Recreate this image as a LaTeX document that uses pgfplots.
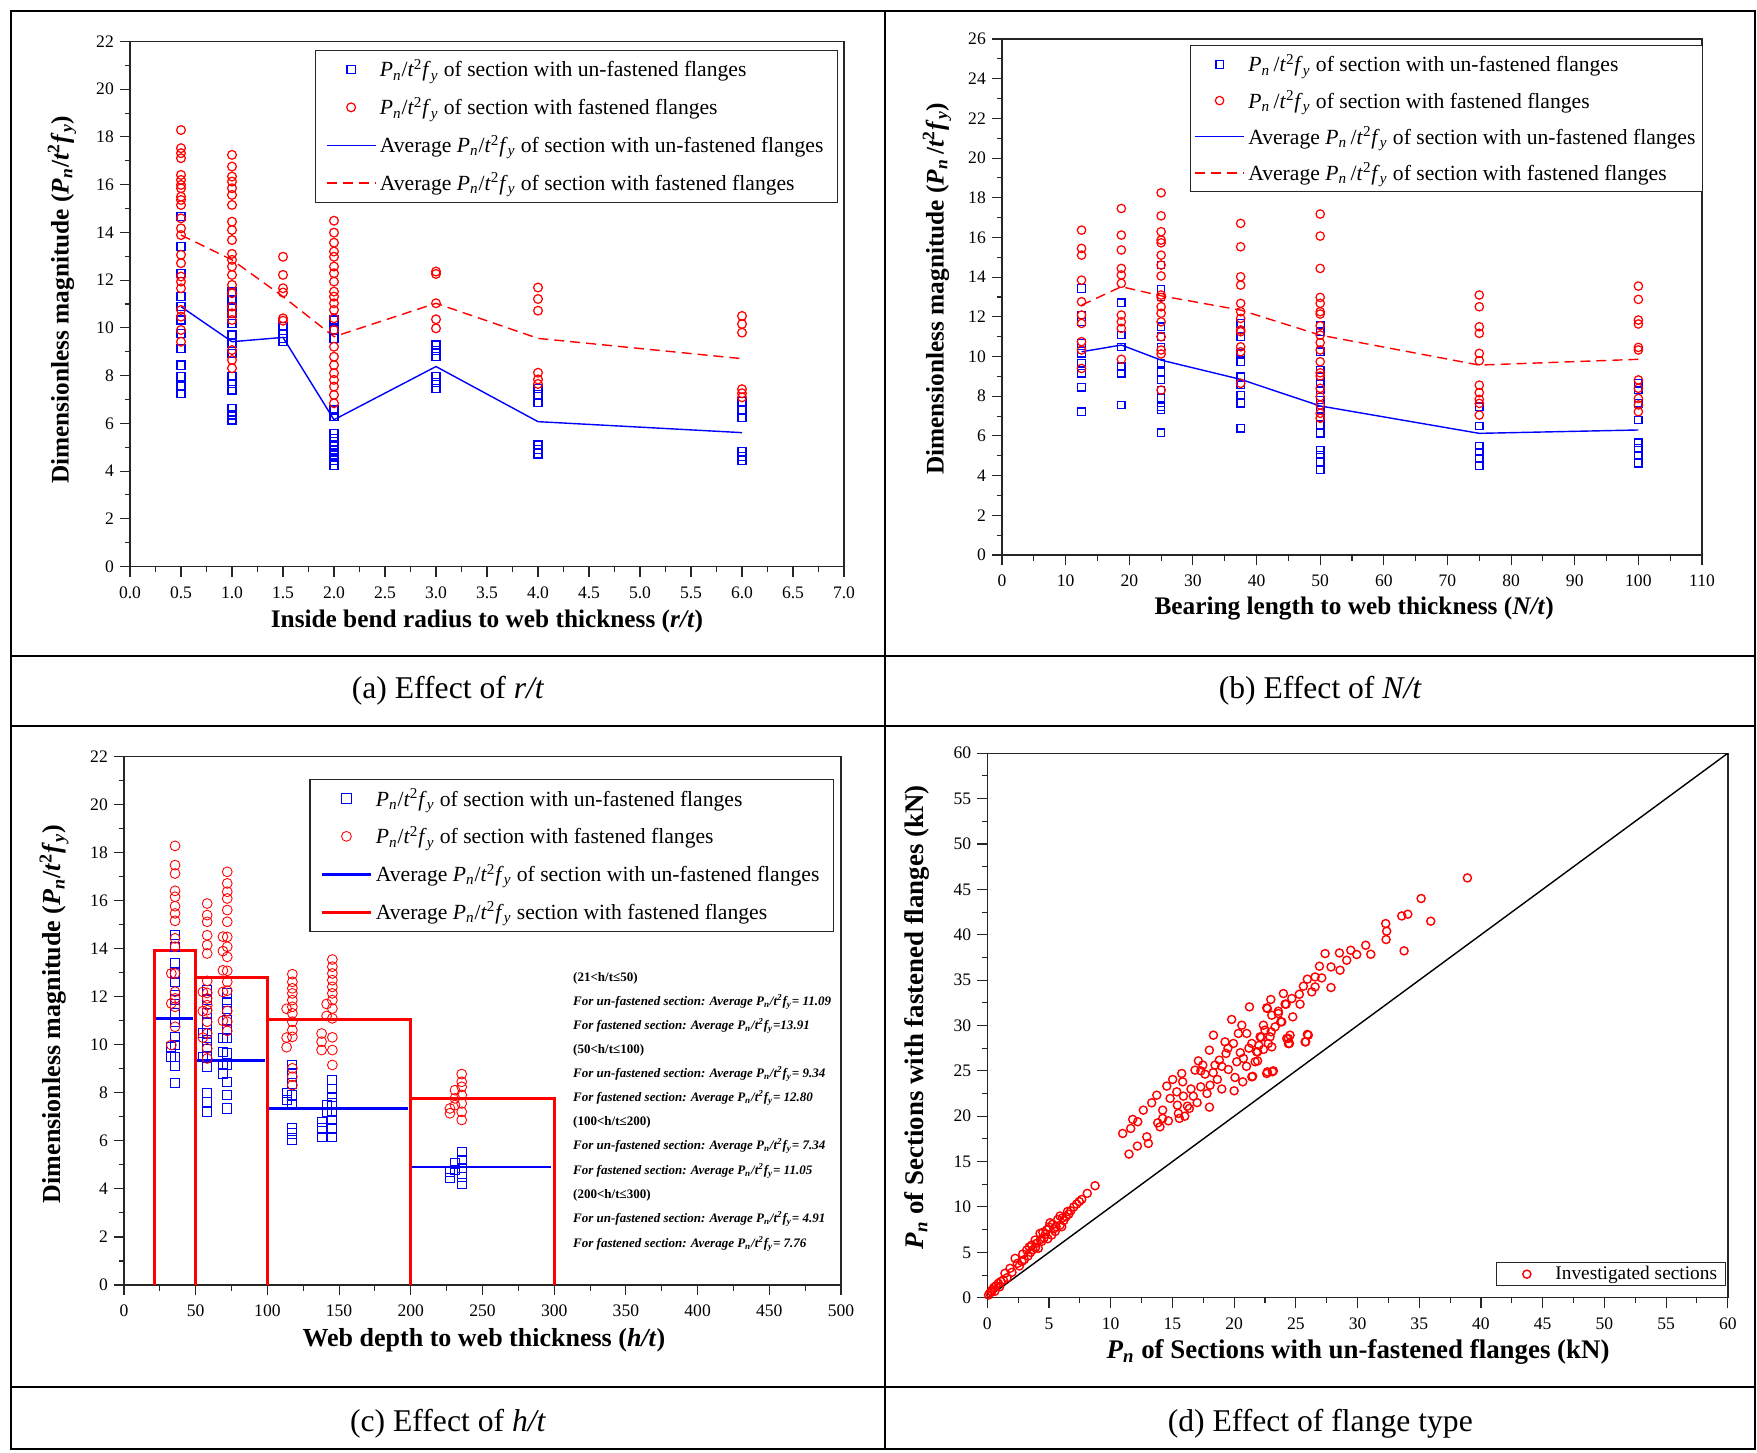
\documentclass[border=0pt]{standalone}
\usepackage{fontspec}
\setmainfont{Liberation Serif}
\usepackage{pgfplots}
\pgfplotsset{compat=1.18}
\newcommand{\PR}{\textit{P}\textsubscript{\textit{n}}/\textit{t}\textsuperscript{2}\textit{f}\textsubscript{\textit{y}}}
\newcommand{\PRs}{\textit{P}\textsubscript{\textit{n}}\,/\textit{t}\textsuperscript{2}\textit{f}\textsubscript{\textit{y}}}
\newcommand{\PRq}{\textit{P}\textsubscript{\textit{n}}/\textit{t}\textsuperscript{2}\textit{f}\textsubscript{\textit{y}}}
\newcommand{\Pn}{\textit{P}\textsubscript{\textit{n}}}
\pgfplotsset{
  panel/.style={
    scale only axis,
    axis line style={line width=0.8pt, black!85},
    every tick/.append style={black!85, line width=0.6pt},
    major tick length=0.2cm, minor tick length=0.11cm,
    tick align=outside, tick pos=left,
    /pgf/number format/assume math mode=true,
    tick label style={font=\fontsize{10}{12}\selectfont},
    xticklabel style={yshift=-0.08cm},
    xlabel style={font=\fontsize{14.4}{16}\selectfont\bfseries, anchor=center},
    ylabel style={font=\fontsize{14.4}{16}\selectfont\bfseries, anchor=center},
    legend cell align=left,
    legend style={draw=black!85, line width=0.6pt, font=\fontsize{12.3}{14}\selectfont, row sep=6pt, inner xsep=6pt, inner ysep=3pt},
  },
  sq/.style={only marks, mark=square, mark size=2.3pt, blue, mark options={line width=0.7pt, solid}},
  ci/.style={only marks, mark=o, mark size=2.5pt, red, mark options={line width=0.7pt, solid}},
  mkleg/.style={legend image code/.code={\path (0cm,0cm) (0.98cm,0cm); \draw[##1] plot coordinates {(0.49cm,0cm)};}},
  lnleg/.style={legend image code/.code={\draw[##1] (0cm,0cm) -- (0.98cm,0cm);}},
}
\begin{document}
\begin{tikzpicture}
\useasboundingbox (0,0) rectangle (35.14cm,-29.04cm);
\fill[white] (0,0) rectangle (35.14cm,-29.04cm);
\begin{scope}[x=0.02cm,y=-0.02cm, line width=1.1pt]
\draw (11,11) rectangle (1755,1449);
\draw (885,11) -- (885,1449);
\draw (11,655.5) -- (1755,655.5);
\draw (11,726) -- (1755,726);
\draw (11,1387) -- (1755,1387);
\node[font=\fontsize{18}{20}\selectfont] at (448,691) {(a) Effect of \textit{r/t}};
\node[font=\fontsize{18}{20}\selectfont] at (1320,691) {(b) Effect of \textit{N/t}};
\node[font=\fontsize{18}{20}\selectfont] at (448,1423) {(c) Effect of \textit{h/t}};
\node[font=\fontsize{18}{20}\selectfont] at (1320,1423) {(d) Effect of flange type};
\end{scope}

% ---------------- (a)
\begin{axis}[panel, at={(2.6cm,-11.33cm)}, anchor=south west,
  width=14.28cm, height=10.5cm,
  xmin=0, xmax=7, ymin=0, ymax=22,
  xtick={0,0.5,...,7}, ytick={0,2,...,22},
  minor x tick num=1, minor y tick num=1,
  xticklabel style={/pgf/number format/.cd, fixed, fixed zerofill, precision=1},
  xlabel={Inside bend radius to web thickness (\textit{r/t})},
  ylabel={Dimensionless magnitude (\PR)},
  xlabel style={at={(axis description cs:0.5,-0.104)}},
  ylabel style={at={(axis description cs:-0.0952,0.508)}},
  legend style={at={(rel axis cs:1,1)}, anchor=north east, xshift=-0.12cm, yshift=-0.17cm},
]
\addplot[sq, mkleg] coordinates {
(0.5,14.66)(0.5,13.40)(0.5,12.29)(0.5,11.31)(0.5,10.89)(0.5,10.33)(0.5,9.77)(0.5,9.14)(0.5,8.44)(0.5,7.95)(0.5,7.56)(0.5,7.26)
(1,11.5)(1,11.17)(1,10.9)(1,10.61)(1,10.19)(1,9.70)(1,9.35)(1,8.94)(1,7.95)(1,7.68)(1,7.40)(1,6.63)(1,6.35)(1,6.14)
(1.5,10.05)(1.5,9.77)(1.5,9.56)(1.5,9.42)
(2,10.33)(2,9.91)(2,9.56)(2,6.56)(2,6.28)(2,5.58)(2,5.37)(2,5.09)(2,4.88)(2,4.67)(2,4.46)(2,4.25)
(3,9.28)(3,9.05)(3,8.79)(3,7.95)(3,7.70)(3,7.47)
(4,7.47)(4,7.19)(4,6.87)(4,5.09)(4,4.91)(4,4.72)
(6,6.91)(6,6.56)(6,6.25)(6,4.82)(6,4.60)(6,4.43)};
\addlegendentry{\PR{} of section with un-fastened flanges}
\addplot[ci, mkleg] coordinates {
(0.5,18.29)(0.5,17.53)(0.5,17.32)(0.5,17.11)(0.5,16.41)(0.5,16.20)(0.5,15.99)(0.5,15.85)(0.5,15.50)(0.5,15.36)(0.5,15.15)(0.5,14.59)(0.5,14.17)(0.5,13.89)(0.5,13.06)(0.5,12.71)(0.5,12.15)(0.5,11.94)(0.5,11.66)(0.5,10.75)(0.5,10.47)(0.5,9.91)(0.5,9.42)
(1,17.25)(1,16.76)(1,16.34)(1,16.13)(1,15.85)(1,15.57)(1,15.15)(1,14.45)(1,14.10)(1,13.68)(1,13.10)(1,12.85)(1,12.57)(1,12.22)(1,11.80)(1,11.45)(1,10.89)(1,10.61)(1,10.33)(1,9.07)(1,8.65)(1,8.31)
(1.5,12.98)(1.5,12.22)(1.5,11.66)(1.5,11.48)(1.5,10.40)(1.5,10.30)
(2,14.49)(2,13.99)(2,13.57)(2,13.20)(2,12.98)(2,12.57)(2,12.29)(2,11.94)(2,11.52)(2,11.31)(2,11.03)(2,10.75)(2,10.40)(2,9.91)(2,9.21)(2,8.79)(2,8.44)(2,8.10)(2,7.82)(2,7.54)(2,7.19)(2,6.84)
(3,12.36)(3,12.26)(3,11.03)(3,10.36)(3,9.98)
(4,11.69)(4,11.21)(4,10.72)(4,8.12)(4,7.84)(4,7.65)
(6,10.50)(6,10.16)(6,9.80)(6,7.43)(6,7.26)(6,7.09)};
\addlegendentry{\PR{} of section with fastened flanges}
\addplot[blue, line width=0.8pt, lnleg] coordinates {(0.5,10.89)(1,9.42)(1.5,9.60)(2,6.15)(3,8.38)(4,6.07)(6,5.61)};
\addlegendentry{Average \PR{} of section with un-fastened flanges}
\addplot[red, line width=0.8pt, dash pattern=on 0.2cm off 0.12cm, lnleg] coordinates {(0.5,13.89)(1,12.85)(1.5,11.31)(2,9.63)(3,11.03)(4,9.56)(6,8.71)};
\addlegendentry{Average \PR{} of section with fastened flanges}
\end{axis}

% ---------------- (b)
\begin{axis}[panel, at={(20.04cm,-11.10cm)}, anchor=south west,
  width=14.0cm, height=10.32cm,
  xmin=0, xmax=110, ymin=0, ymax=26,
  xtick={0,10,...,110}, ytick={0,2,...,26},
  minor x tick num=1, minor y tick num=1,
  xlabel={Bearing length to web thickness (\textit{N/t})},
  ylabel={Dimensionless magnitude (\PRs)},
  xlabel style={at={(axis description cs:0.503,-0.103)}},
  ylabel style={at={(axis description cs:-0.093,0.516)}},
  legend style={at={(rel axis cs:1,1)}, anchor=north east, xshift=0.02cm, yshift=-0.12cm, inner xsep=2pt, row sep=5pt},
]
\addplot[sq, mark size=2.1pt, mkleg] coordinates {
(12.5,13.43)(12.5,12.09)(12.5,11.75)(12.5,10.66)(12.5,10.16)(12.5,9.66)(12.5,9.15)(12.5,8.45)(12.5,7.22)
(18.75,12.71)(18.75,11.08)(18.75,10.49)(18.75,9.49)(18.75,9.15)(18.75,7.56)
(25,14.61)(25,13.38)(25,13.01)(25,11.50)(25,11.00)(25,10.49)(25,9.66)(25,9.24)(25,8.82)(25,8.31)(25,7.89)(25,7.47)(25,7.30)(25,6.16)
(37.5,11.67)(37.5,11.00)(37.5,10.16)(37.5,9.74)(37.5,8.98)(37.5,8.56)(37.5,8.06)(37.5,7.64)(37.5,6.38)
(50,11.59)(50,11.25)(50,10.24)(50,9.32)(50,8.98)(50,8.65)(50,8.31)(50,7.81)(50,7.30)(50,6.97)(50,6.55)(50,6.13)(50,5.29)(50,5.04)(50,4.70)(50,4.28)
(75,7.47)(75,6.50)(75,5.49)(75,5.20)(75,4.87)(75,4.48)
(100,8.65)(100,8.31)(100,7.64)(100,6.80)(100,5.66)(100,5.37)(100,5.04)(100,4.62)};
\addlegendentry{\PRs{} of section with un-fastened flanges}
\addplot[ci, mark size=2.4pt, mkleg] coordinates {
(12.5,16.37)(12.5,15.45)(12.5,15.11)(12.5,13.85)(12.5,12.76)(12.5,12.09)(12.5,11.67)(12.5,10.75)(12.5,10.33)(12.5,9.40)
(18.75,17.46)(18.75,16.12)(18.75,15.37)(18.75,14.44)(18.75,14.11)(18.75,13.69)(18.75,12.09)(18.75,11.75)(18.75,11.42)(18.75,9.86)
(25,18.25)(25,17.09)(25,16.29)(25,15.87)(25,15.73)(25,15.11)(25,14.61)(25,14.06)(25,13.10)(25,12.98)(25,12.51)(25,12.18)(25,11.75)(25,11.00)(25,10.33)(25,10.13)(25,8.31)
(37.5,16.71)(37.5,15.53)(37.5,14.02)(37.5,13.60)(37.5,12.68)(37.5,12.26)(37.5,11.92)(37.5,11.34)(37.5,11.25)(37.5,10.49)(37.5,10.24)(37.5,8.65)
(50,17.18)(50,16.07)(50,14.44)(50,12.98)(50,12.68)(50,12.26)(50,12.14)(50,11.55)(50,11.08)(50,10.70)(50,10.33)(50,9.74)(50,9.18)(50,9.02)(50,8.40)(50,7.98)(50,7.56)(50,7.14)(50,6.89)
(75,13.10)(75,12.51)(75,11.50)(75,11.17)(75,10.16)(75,9.79)(75,8.56)(75,8.18)(75,7.84)(75,7.64)(75,7.05)
(100,13.55)(100,12.88)(100,11.84)(100,11.64)(100,10.46)(100,10.33)(100,8.82)(100,8.40)(100,7.89)(100,7.56)(100,7.22)};
\addlegendentry{\PRs{} of section with fastened flanges}
\addplot[blue, line width=0.8pt, lnleg] coordinates {(12.5,10.24)(18.75,10.58)(25,9.82)(37.5,8.85)(50,7.51)(75,6.13)(100,6.30)};
\addlegendentry{Average \PRs{} of section with un-fastened flanges}
\addplot[red, line width=0.8pt, dash pattern=on 0.2cm off 0.12cm, lnleg] coordinates {(12.5,12.59)(18.75,13.52)(25,13.06)(37.5,12.34)(50,11.08)(75,9.57)(100,9.86)};
\addlegendentry{Average \PRs{} of section with fastened flanges}
\end{axis}

% ---------------- (c)
\begin{axis}[panel, at={(2.48cm,-25.70cm)}, anchor=south west,
  width=14.34cm, height=10.57cm,
  xmin=0, xmax=500, ymin=0, ymax=22,
  xtick={0,50,...,500}, ytick={0,2,...,22},
  minor x tick num=1, minor y tick num=1,
  xlabel={Web depth to web thickness (\textit{h/t})},
  ylabel={Dimensionless magnitude (\PRq)},
  xlabel style={at={(axis description cs:0.502,-0.104)}, font=\fontsize{14.8}{16}\selectfont\bfseries},
  ylabel style={at={(axis description cs:-0.0976,0.513)}, font=\fontsize{14.8}{16}\selectfont\bfseries},
  legend style={at={(rel axis cs:1,1)}, anchor=north east, xshift=-0.14cm, yshift=-0.45cm},
]
\addplot[sq, mark size=2.6pt, mark options={line width=0.5pt}, mkleg] coordinates {
(35.6,14.56)(35.6,14.08)(35.6,13.39)(35.6,12.97)(35.6,12.62)(35.6,12.07)(35.6,11.86)(35.6,11.31)(35.6,10.96)(35.6,10.33)(35.6,9.99)(35.6,9.50)(35.6,9.13)(35.6,8.42)
(33,9.9)(33,9.5)
(58,12.28)(58,11.86)(58,11.31)(58,10.89)(58,10.47)(58,10.20)(58,9.92)(58,9.50)(58,9.08)(58,7.98)(58,7.63)(58,7.21)
(55,10.5)(55,9.5)
(72,12.14)(72,11.79)(72,11.51)(72,11.03)(72,10.61)(72,10.27)(72,9.64)(72,9.16)(72,8.46)(72,7.91)(72,7.35)
(69,10.3)(69,9.7)(69,9.2)(69,8.8)
(117.4,9.16)(117.4,8.81)(117.4,8.39)(117.4,7.91)(117.4,7.49)(117.4,6.52)(117.4,6.31)(117.4,6.03)
(113.4,8.0)(113.4,7.7)
(145.3,8.53)(145.3,8.18)(145.3,7.84)(145.3,7.56)(145.3,7.21)(145.3,6.87)(145.3,6.52)(145.3,6.17)
(141.3,7.5)(141.3,7.2)
(137.8,6.80)(137.8,6.52)(137.8,6.17)
(235.5,5.55)(235.5,5.20)(235.5,4.86)(235.5,4.51)(235.5,4.23)
(230.8,5.06)(230.8,4.79)
(227.3,4.72)(227.3,4.44)};
\addlegendentry{\PRq{} of section with un-fastened flanges}
\addplot[ci, mark size=2.8pt, mark options={line width=0.5pt}, mkleg] coordinates {
(35.6,18.28)(35.6,17.48)(35.6,17.13)(35.6,16.41)(35.6,16.16)(35.6,15.77)(35.6,15.47)(35.6,15.16)(35.6,14.43)(35.6,14.08)(35.6,12.97)(35.6,12.21)(35.6,11.93)(35.6,11.58)(35.6,10.75)
(33,12.97)(33,11.72)(33,9.99)
(58,15.88)(58,15.40)(58,15.12)(58,14.56)(58,14.15)(58,13.80)(58,12.66)(58,12.16)(58,11.93)(58,11.65)(58,11.44)(58,10.96)(58,10.47)(58,9.85)(58,9.43)
(55,12.2)(55,11.4)(55,10.3)
(72,17.20)(72,16.72)(72,16.37)(72,16.09)(72,15.61)(72,15.12)(72,14.49)(72,14.08)(72,13.66)(72,13.08)(72,12.62)(72,12.25)(72,11.41)(72,10.96)(72,10.58)
(69,14.5)(69,13.9)(69,13.1)(69,12.2)(69,11.0)
(117.4,12.94)(117.4,12.62)(117.4,12.35)(117.4,12.14)(117.4,11.86)(117.4,11.58)(117.4,11.31)(117.4,10.96)(117.4,10.61)(117.4,10.33)(117.4,9.02)(117.4,8.67)(117.4,8.32)
(113.4,11.5)(113.4,10.3)(113.4,9.9)
(145.3,13.55)(145.3,13.25)(145.3,12.97)(145.3,12.69)(145.3,12.41)(145.3,12.14)(145.3,11.86)(145.3,11.51)(145.3,11.10)(145.3,10.31)(145.3,9.78)(145.3,9.16)
(141.3,11.7)(141.3,11.2)
(137.8,10.47)(137.8,10.13)(137.8,9.78)
(235.5,8.78)(235.5,8.46)(235.5,8.25)(235.5,7.91)(235.5,7.56)(235.5,7.21)(235.5,6.87)
(230.8,8.11)(230.8,7.77)(230.8,7.49)
(227.3,7.35)(227.3,7.15)};
\addlegendentry{\PRq{} of section with fastened flanges}
\addplot[blue, line width=1.6pt, lnleg] coordinates {(22,11.09)(48,11.09)};
\addlegendentry{Average \PRq{} of section with un-fastened flanges}
\addplot[red, line width=1.6pt, lnleg] coordinates {(21,0)(21,13.91)(50,13.91)(50,0)(50,12.80)(100,12.80)(100,0)(100,11.05)(200,11.05)(200,0)(200,7.76)(300,7.76)(300,0)};
\addlegendentry{Average \PRq{} section with fastened flanges}
\addplot[blue, line width=1.6pt, forget plot] coordinates {(51,9.34)(98,9.34)};
\addplot[blue, line width=1.6pt, forget plot] coordinates {(101,7.34)(198,7.34)};
\addplot[blue, line width=1.6pt, forget plot] coordinates {(201,4.91)(298,4.91)};
\begin{scope}[every node/.style={anchor=west, inner sep=0pt, font=\fontsize{7.4}{8}\selectfont\bfseries}]
\node at (axis cs:313,12.78) {(21<h/t≤50)};
\node at (axis cs:313,11.78) {\itshape For un-fastened section: Average \Pn/\textit{t}\textsuperscript{2}\textit{f}\textsubscript{\textit{y}}= 11.09};
\node at (axis cs:313,10.78) {\itshape For fastened section: Average \Pn/\textit{t}\textsuperscript{2}\textit{f}\textsubscript{\textit{y}}=13.91};
\node at (axis cs:313,9.78) {(50<h/t≤100)};
\node at (axis cs:313,8.78) {\itshape For un-fastened section: Average \Pn/\textit{t}\textsuperscript{2}\textit{f}\textsubscript{\textit{y}}= 9.34};
\node at (axis cs:313,7.78) {\itshape For fastened section: Average \Pn/\textit{t}\textsuperscript{2}\textit{f}\textsubscript{\textit{y}}= 12.80};
\node at (axis cs:313,6.78) {(100<h/t≤200)};
\node at (axis cs:313,5.78) {\itshape For un-fastened section: Average \Pn/\textit{t}\textsuperscript{2}\textit{f}\textsubscript{\textit{y}}= 7.34};
\node at (axis cs:313,4.74) {\itshape For fastened section: Average \Pn/\textit{t}\textsuperscript{2}\textit{f}\textsubscript{\textit{y}}= 11.05};
\node at (axis cs:313,3.75) {(200<h/t≤300)};
\node at (axis cs:313,2.75) {\itshape For un-fastened section: Average \Pn/\textit{t}\textsuperscript{2}\textit{f}\textsubscript{\textit{y}}= 4.91};
\node at (axis cs:313,1.71) {\itshape For fastened section: Average \Pn/\textit{t}\textsuperscript{2}\textit{f}\textsubscript{\textit{y}}= 7.76};
\end{scope}
\end{axis}

% ---------------- (d)
\begin{axis}[panel, at={(19.746cm,-25.954cm)}, anchor=south west,
  width=14.81cm, height=10.89cm,
  xmin=0, xmax=60, ymin=0, ymax=60,
  xtick={0,5,...,60}, ytick={0,5,...,60},
  minor x tick num=1, minor y tick num=1,
  xlabel={\Pn{} of Sections with un-fastened flanges (kN)},
  ylabel={\Pn{} of Sections with fastened flanges (kN)},
  xlabel style={at={(axis description cs:0.5007,-0.0997)}, font=\fontsize{15.3}{17}\selectfont\bfseries},
  ylabel style={at={(axis description cs:-0.095,0.515)}, font=\fontsize{15.3}{17}\selectfont\bfseries},
  legend style={at={(rel axis cs:1,0)}, anchor=south east, xshift=-0.03cm, yshift=0.23cm, font=\fontsize{11}{12}\selectfont, inner ysep=0pt, inner xsep=3pt, row sep=0pt},
]
\addplot[ci, mark size=2.3pt, mark options={line width=0.8pt}, mkleg] coordinates {
(0.10,0.30)(0.2,0.5)(0.35,0.66)(0.4,0.9)(0.54,1.14)(0.6,0.7)(0.7,1.3)(0.89,1.59)(1.0,1.2)(1.1,1.8)(1.30,1.95)(1.43,2.69)(1.6,2.2)(1.84,3.24)(2.0,2.8)(2.25,4.34)(2.43,3.78)(2.6,3.5)(2.8,4.0)(2.87,4.81)(3.0,4.2)(3.19,5.25)(3.3,4.6)(3.4,5.6)(3.5,5.0)(3.60,5.80)(3.7,5.3)(3.87,6.35)(3.9,5.5)(4.0,6.0)(4.13,5.44)(4.27,7.09)(4.3,6.4)(4.4,6.2)(4.5,7.2)(4.6,6.6)(4.7,7.0)(4.81,7.46)(4.9,6.5)(5.0,7.8)(5.08,8.26)(5.22,6.91)(5.3,8.1)(5.4,7.6)(5.5,7.3)(5.57,7.82)(5.7,8.6)(5.89,9.00)(5.9,8.0)(6.03,7.82)(6.1,8.8)(6.2,8.5)(6.38,8.92)(6.5,9.5)(6.6,9.2)(6.76,9.58)(7.0,10.0)(7.24,10.32)(7.45,10.6)(7.65,10.83)(8.10,11.50)(8.73,12.34)
(10.97,18.10)(11.48,15.83)(11.62,18.65)(11.78,19.65)(12.19,19.39)(12.16,16.71)(12.64,20.67)(12.92,17.73)(13.05,17.00)(13.32,21.48)(13.73,22.32)(13.81,19.27)(13.99,18.83)(14.21,20.67)(14.21,19.76)(14.54,23.32)(14.67,19.49)(14.81,21.96)(15.02,24.05)(15.35,22.69)(15.40,21.22)(15.48,20.31)(15.56,19.76)(15.75,24.71)(15.83,23.79)(15.89,22.21)(16.0,20.0)(16.21,21.11)(16.37,20.86)(16.5,23.0)(16.69,22.21)(16.83,25.08)(17.0,21.5)(17.10,26.10)(17.29,23.24)(17.3,25.0)(17.46,25.63)(17.64,24.64)(17.8,22.5)(17.99,27.28)(18.0,21.0)(18.05,23.42)(18.3,24.8)(18.32,28.93)(18.45,25.63)(18.64,24.05)(18.80,26.18)(19.0,23.0)(19.0,25.5)(19.26,28.19)(19.34,26.92)(19.5,27.5)(19.53,25.15)(19.80,30.66)(19.94,28.02)(20.0,22.8)(20.07,24.27)(20.21,26.00)(20.34,29.12)(20.5,27.0)(20.62,30.03)(20.70,23.79)(20.75,26.37)(21.0,25.5)(21.02,29.12)(21.2,27.5)(21.24,32.05)(21.43,24.34)(21.43,28.02)(21.5,24.4)(21.70,26.00)(21.83,27.10)(21.9,27.1)(21.9,26.1)(22.0,27.8)(22.10,28.75)(22.2,28.7)(22.37,30.03)(22.37,27.36)(22.50,29.48)(22.64,24.71)(22.64,31.94)(22.69,31.87)(22.69,24.89)(22.77,28.02)(22.91,28.75)(22.97,32.86)(23.0,29.3)(23.05,27.64)(23.05,31.13)(23.1,24.9)(23.18,25.00)(23.32,29.85)(23.58,31.32)(23.58,31.57)(23.78,30.40)(23.86,30.40)(23.99,33.52)(24.13,32.35)(24.21,32.35)(24.26,28.57)(24.39,28.57)(24.4,28.0)(24.48,28.02)(24.53,28.93)(24.67,32.97)(24.75,30.95)(25.28,33.44)(25.34,32.35)(25.61,34.33)(25.75,28.19)(25.8,28.2)(25.93,35.10)(25.93,29.01)(26.01,28.93)(26.29,33.70)(26.56,34.25)(26.56,35.35)(26.91,36.53)(27.10,35.24)(27.37,37.92)(27.85,36.45)(27.85,34.18)(28.53,37.99)(28.58,36.09)(29.12,37.19)(29.45,38.29)(29.93,37.82)(30.66,38.84)(31.07,37.85)(32.28,41.23)(32.36,40.39)(32.31,39.47)(33.58,42.07)(33.77,38.22)(34.07,42.26)(35.15,43.99)(35.93,41.49)(38.90,46.26)};
\addlegendentry{Investigated sections}
\addplot[black, line width=0.8pt, forget plot] coordinates {(0,0)(60,60)};
\end{axis}
\end{tikzpicture}
\end{document}
